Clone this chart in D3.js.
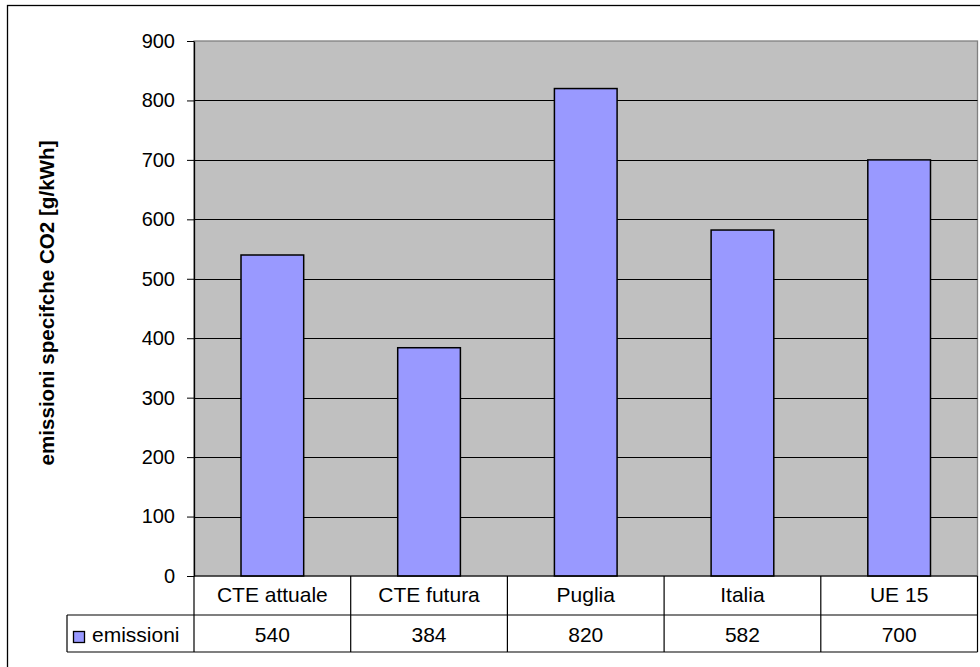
<!DOCTYPE html>
<html>
<head>
<meta charset="utf-8">
<script src="https://cdn.jsdelivr.net/npm/d3@7/dist/d3.min.js"></script>
<style>
  html, body { margin: 0; padding: 0; background: #fff; }
  svg { display: block; font-family: "Liberation Sans", Arial, sans-serif; }
</style>
</head>
<body>
<svg id="chart" width="980" height="667"></svg>
<script>
// Specific CO2 emissions per site
const categories = ["CTE attuale", "CTE futura", "Puglia", "Italia", "UE 15"];
const emissioni = [540, 384, 820, 582, 700];
const yTicks = [0, 100, 200, 300, 400, 500, 600, 700, 800, 900];
const seriesName = "emissioni";
const yTitle = "emissioni specifche CO2 [g/kWh]";

const svg = d3.select("#chart");

// plot frame
const plotLeft = 194, plotRight = 977.5, plotTop = 41, plotBottom = 576;
const rowH1 = 39, rowH2 = 37;
const legendLeft = 67;

const x = d3.scaleBand().domain(categories).range([plotLeft, plotRight]).padding(0);
const y = d3.scaleLinear().domain([0, 900]).range([plotBottom, plotTop]);

// chart border
svg.append("rect")
  .attr("x", 7.5).attr("y", 5.5)
  .attr("width", 1000).attr("height", 700)
  .attr("fill", "#fff").attr("stroke", "#000").attr("stroke-width", 1.3);

// plot background
svg.append("rect")
  .attr("x", plotLeft).attr("y", plotTop)
  .attr("width", plotRight - plotLeft).attr("height", plotBottom - plotTop)
  .attr("fill", "#c0c0c0").attr("stroke", "#808080").attr("stroke-width", 1.3);

// gridlines
svg.append("g").selectAll("line")
  .data(yTicks.filter(t => t > 0 && t < 900))
  .join("line")
  .attr("x1", plotLeft).attr("x2", plotRight)
  .attr("y1", d => Math.round(y(d)) + 0.5).attr("y2", d => Math.round(y(d)) + 0.5)
  .attr("stroke", "#000").attr("stroke-width", 1);

// bars
const barW = x.bandwidth() * 0.4;
svg.append("g").selectAll("rect")
  .data(categories)
  .join("rect")
  .attr("x", d => x(d) + (x.bandwidth() - barW) / 2)
  .attr("y", (d, i) => y(emissioni[i]))
  .attr("width", barW)
  .attr("height", (d, i) => y(0) - y(emissioni[i]))
  .attr("fill", "#9999ff").attr("stroke", "#000").attr("stroke-width", 1.5);

// y axis
const yAxis = d3.axisLeft(y).tickValues(yTicks).tickSize(7).tickPadding(12).tickSizeOuter(0);
const gy = svg.append("g").attr("transform", `translate(${plotLeft},0)`).call(yAxis);
gy.select(".domain").attr("stroke", "#000").attr("stroke-width", 1.3);
gy.selectAll(".tick line").attr("stroke", "#000");
gy.selectAll(".tick text")
  .attr("font-family", "Liberation Sans, Arial, sans-serif")
  .attr("font-size", 20).attr("fill", "#000");

// y title
svg.append("text")
  .attr("transform", "translate(54,303) rotate(-90)")
  .attr("text-anchor", "middle")
  .attr("font-weight", "bold").attr("font-size", 20.6)
  .text(yTitle);

// data table
const tbl = svg.append("g").attr("stroke", "#000").attr("stroke-width", 1.2);
const r1 = plotBottom, r2 = plotBottom + rowH1, r3 = plotBottom + rowH1 + rowH2;
tbl.append("line").attr("x1", plotLeft).attr("x2", plotRight).attr("y1", r1).attr("y2", r1);
tbl.append("line").attr("x1", legendLeft).attr("x2", plotRight).attr("y1", r2).attr("y2", r2);
tbl.append("line").attr("x1", legendLeft).attr("x2", plotRight).attr("y1", r3).attr("y2", r3);
tbl.append("line").attr("x1", legendLeft).attr("x2", legendLeft).attr("y1", r2).attr("y2", r3);
tbl.selectAll(".v").data(categories.concat(["end"])).join("line")
  .attr("x1", (d, i) => plotLeft + i * x.bandwidth())
  .attr("x2", (d, i) => plotLeft + i * x.bandwidth())
  .attr("y1", r1).attr("y2", r3);

// category labels
svg.append("g").selectAll("text").data(categories).join("text")
  .attr("x", d => x(d) + x.bandwidth() / 2)
  .attr("y", r1 + 26)
  .attr("text-anchor", "middle").attr("font-size", 21)
  .text(d => d);

// values
svg.append("g").selectAll("text").data(emissioni).join("text")
  .attr("x", (d, i) => x(categories[i]) + x.bandwidth() / 2)
  .attr("y", r2 + 27)
  .attr("text-anchor", "middle").attr("font-size", 21)
  .text(d => d);

// legend key
svg.append("rect")
  .attr("x", 73.5).attr("y", r2 + 16.5)
  .attr("width", 11).attr("height", 11)
  .attr("fill", "#9999ff").attr("stroke", "#000").attr("stroke-width", 1.3);
svg.append("text")
  .attr("x", 92).attr("y", r2 + 27)
  .attr("font-size", 21)
  .text(seriesName);
</script>
</body>
</html>
